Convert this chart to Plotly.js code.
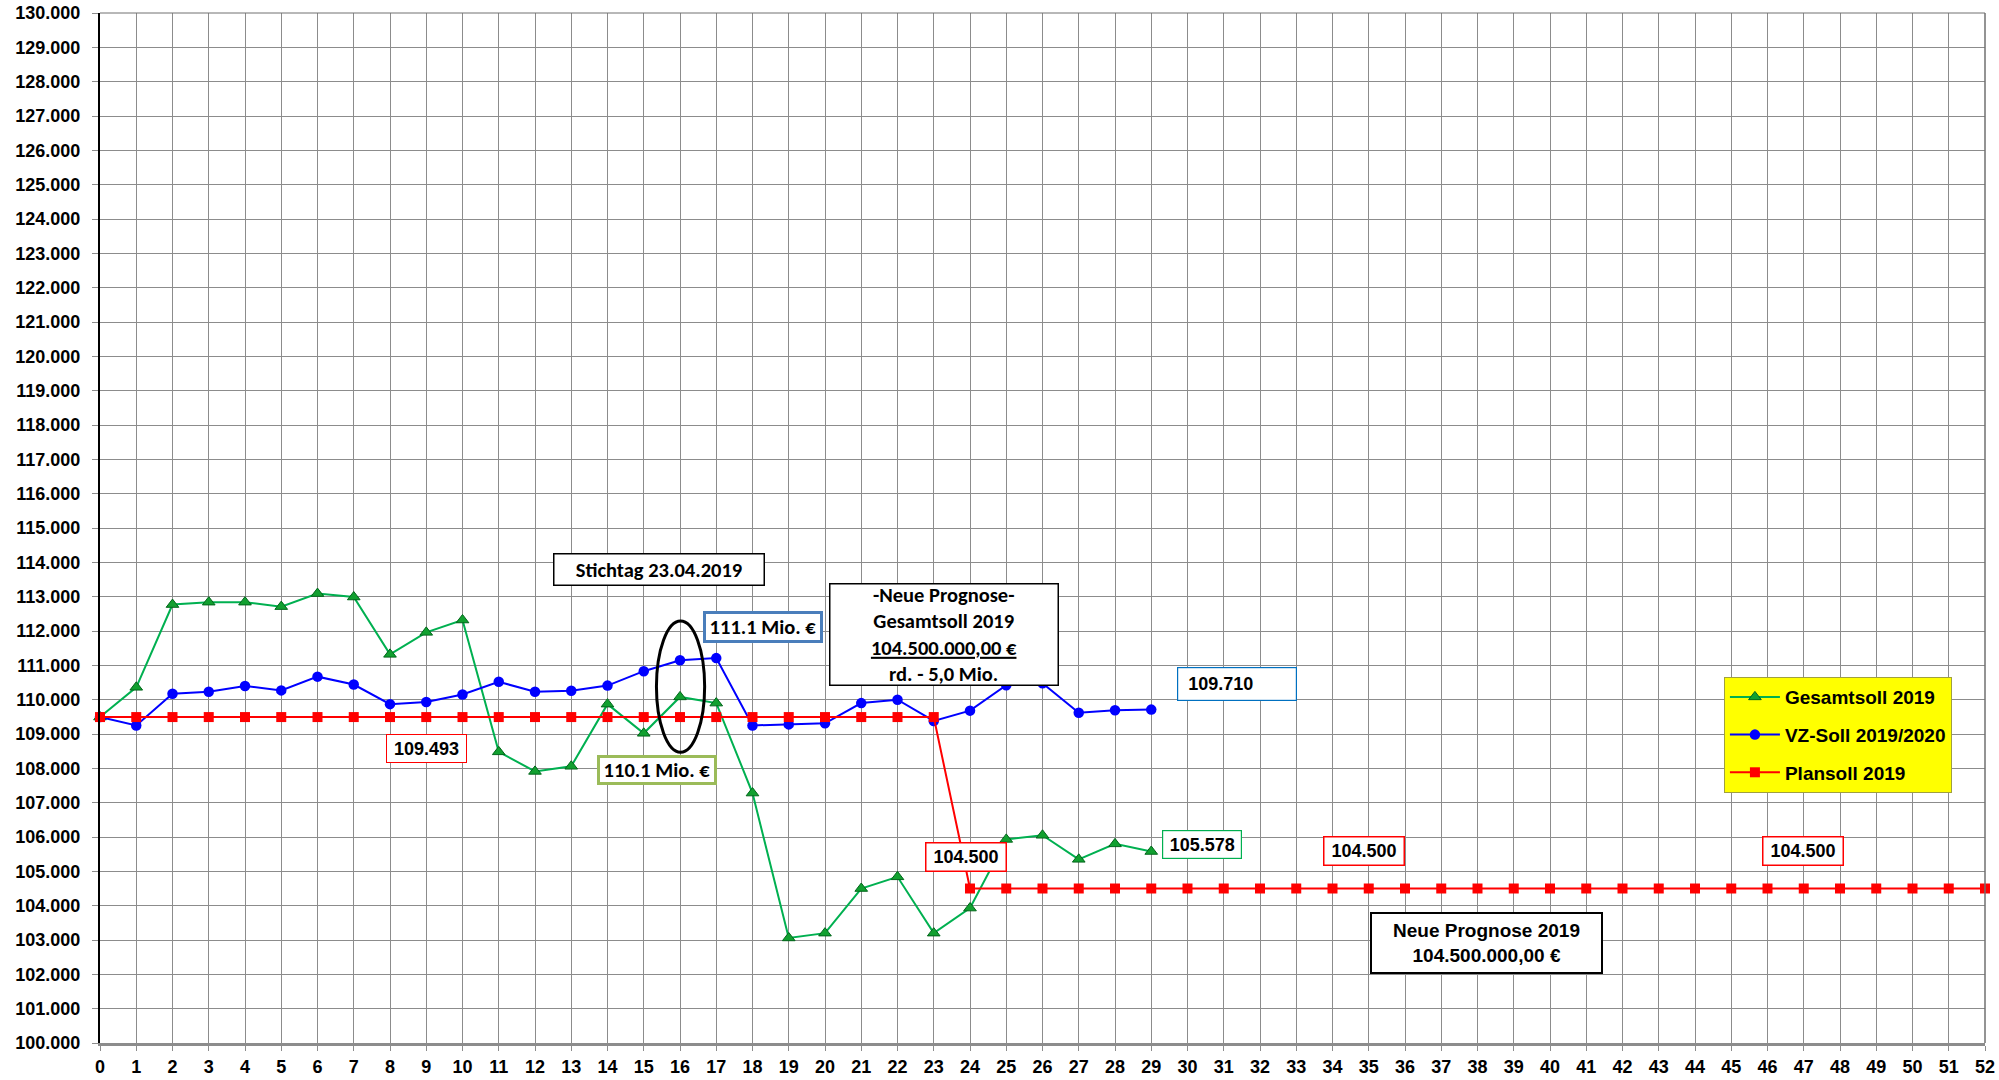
<!DOCTYPE html>
<html>
<head>
<meta charset="utf-8">
<script src="https://cdn.plot.ly/plotly-3.0.1.min.js"></script>
<style>html,body{margin:0;padding:0;background:#fff}#chart{width:1999px;height:1080px}</style>
</head>
<body>
<div id="chart"></div>
<script>
// Kalenderwochen
const weeks = [0,1,2,3,4,5,6,7,8,9,10,11,12,13,14,15,16,17,18,19,20,21,22,23,24,25,26,
  27,28,29,30,31,32,33,34,35,36,37,38,39,40,41,42,43,44,45,46,47,48,49,50,51,52];
const weeksActual = [0,1,2,3,4,5,6,7,8,9,10,11,12,13,14,15,16,17,18,19,20,21,22,23,24,25,26,27,28,29];

// Werte in Tausend Euro (Tsd. = 1.000)
const gesamtsoll2019 = [109.493, 110.36, 112.77, 112.84, 112.84, 112.71, 113.09, 112.99, 111.32, 111.96,
  112.32, 108.48, 107.91, 108.06, 109.87, 109.02, 110.08, 109.90, 107.28, 103.06,
  103.20, 104.50, 104.84, 103.20, 103.93, 105.93, 106.05, 105.35, 105.80, 105.578];
const vzSoll20192020 = [109.493, 109.25, 110.17, 110.23, 110.40, 110.27, 110.67, 110.44, 109.87, 109.93,
  110.15, 110.52, 110.23, 110.26, 110.41, 110.83, 111.15, 111.21, 109.25, 109.28,
  109.31, 109.90, 110.00, 109.38, 109.68, 110.42, 110.48, 109.62, 109.69, 109.71];
const plansoll2019 = [109.493, 109.493, 109.493, 109.493, 109.493, 109.493, 109.493, 109.493, 109.493, 109.493,
  109.493, 109.493, 109.493, 109.493, 109.493, 109.493, 109.493, 109.493, 109.493, 109.493,
  109.493, 109.493, 109.493, 109.493, 104.5, 104.5, 104.5, 104.5, 104.5, 104.5,
  104.5, 104.5, 104.5, 104.5, 104.5, 104.5, 104.5, 104.5, 104.5, 104.5,
  104.5, 104.5, 104.5, 104.5, 104.5, 104.5, 104.5, 104.5, 104.5, 104.5,
  104.5, 104.5, 104.5];

const seriesNames = ['Gesamtsoll 2019', 'VZ-Soll 2019/2020', 'Plansoll 2019'];

const yTickVals = [100,101,102,103,104,105,106,107,108,109,110,111,112,113,114,115,116,117,118,119,120,
  121,122,123,124,125,126,127,128,129,130];
const yTickText = yTickVals.map(v => v.toFixed(3));

const boxFont = {family: 'Carlito, Lato, "Open Sans", sans-serif', size: 20.5, color: '#000', weight: 'bold'};
const numFont = {family: '"Liberation Sans", Arial, sans-serif', size: 18, color: '#000', weight: 'bold'};

const traces = [
  {x: weeksActual, y: gesamtsoll2019, name: seriesNames[0], legendgroup: 'g1', type: 'scatter', mode: 'lines+markers',
   line: {color: '#00b050', width: 2}, cliponaxis: false,
   marker: {symbol: 'triangle-up', size: 11, color: '#12a030', line: {color: '#00661a', width: 1}}},
  {x: weeksActual, y: vzSoll20192020, name: seriesNames[1], legendgroup: 'g2', type: 'scatter', mode: 'lines+markers',
   line: {color: '#0000ff', width: 2}, cliponaxis: false,
   marker: {symbol: 'circle', size: 10.5, color: '#0000ff'}},
  {x: weeks, y: plansoll2019, name: seriesNames[2], legendgroup: 'g3', type: 'scatter', mode: 'lines+markers',
   line: {color: '#ff0000', width: 2}, cliponaxis: false,
   marker: {symbol: 'square', size: 10, color: '#ff0000'}}
];

function box(x, y, text, w, h, border, bw, font, extra) {
  return Object.assign({x: x, y: y, xref: 'x', yref: 'y', text: text, showarrow: false,
    xanchor: 'center', yanchor: 'middle', width: w, height: h, bgcolor: '#ffffff',
    bordercolor: border, borderwidth: bw, borderpad: 0, font: font, align: 'center', valign: 'middle'}, extra || {});
}

const annotations = [
  box(15.41, 113.79, 'Stichtag 23.04.2019', 209, 30, '#000000', 1.5, boxFont),
  box(18.29, 112.12, '111.1 Mio. €', 114, 26, '#4a7ebb', 3, boxFont),
  box(15.37, 107.94, '110.1 Mio. €', 114, 24, '#9bbb59', 3, boxFont),
  box(9.01, 108.59, '109.493', 79, 27, '#ff0000', 1, numFont),
  box(23.28, 111.90, '-Neue Prognose-<br>Gesamtsoll 2019<br><u>104.500.000,00 €</u><br>rd. - 5,0 Mio.', 227, 100, '#000000', 1.5,
      boxFont),
  box(31.37, 110.46, '  109.710', 118, 32, '#0070c0', 1.2, numFont, {align: 'left'}),
  box(30.40, 105.77, '105.578', 78, 27, '#00b050', 1.2, numFont),
  box(23.89, 105.42, '104.500', 79, 27, '#ff0000', 1.5, numFont),
  box(34.88, 105.59, '104.500', 79, 27, '#ff0000', 1.5, numFont),
  box(46.98, 105.59, '104.500', 79, 27, '#ff0000', 1.5, numFont),
  box(38.25, 102.91, 'Neue Prognose 2019<br>104.500.000,00 €', 229, 58, '#000000', 2,
      {family: '"Liberation Sans", Arial, sans-serif', size: 19, color: '#000', weight: 'bold'})
];

const layout = {
  width: 1999, height: 1080,
  margin: {l: 100, r: 14, t: 13, b: 37, pad: 0},
  paper_bgcolor: '#ffffff', plot_bgcolor: '#ffffff',
  showlegend: true,
  legend: {x: 0.8615, y: 0.3553, xanchor: 'left', yanchor: 'top', bgcolor: '#ffff00',
    bordercolor: '#a0a040', borderwidth: 1, traceorder: 'grouped', tracegroupgap: 10,
    font: {family: '"Liberation Sans", Arial, sans-serif', size: 19, color: '#000', weight: 'bold'},
    itemwidth: 50},
  xaxis: {range: [0, 52], tickmode: 'linear', tick0: 0, dtick: 1, showgrid: true, gridcolor: '#8c8c8c', gridwidth: 1,
    zeroline: false, showline: true, linecolor: '#8c8c8c', linewidth: 3, ticks: 'outside', ticklen: 5, tickcolor: '#8c8c8c',
    tickfont: {family: '"Liberation Sans Narrow", "Arial Narrow", "Liberation Sans", Arial, sans-serif', size: 18, color: '#000', weight: 'bold'},
    fixedrange: true},
  yaxis: {range: [100, 130], tickmode: 'array', tickvals: yTickVals, ticktext: yTickText, showgrid: true,
    gridcolor: '#8c8c8c', gridwidth: 1, zeroline: false, showline: true, linecolor: '#000000', linewidth: 2,
    ticks: 'outside', ticklen: 6, tickcolor: '#8c8c8c', ticklabelstandoff: 8,
    tickfont: {family: '"Liberation Sans", Arial, sans-serif', size: 18, color: '#000', weight: 'bold'},
    fixedrange: true},
  shapes: [
    {type: 'line', xref: 'paper', yref: 'paper', x0: 0, x1: 1, y0: 1, y1: 1, line: {color: '#707070', width: 1}},
    {type: 'line', xref: 'paper', yref: 'paper', x0: 1, x1: 1, y0: 0, y1: 1, line: {color: '#707070', width: 1.5}},
    {type: 'circle', xref: 'x', yref: 'y', x0: 15.35, x1: 16.68, y0: 108.47, y1: 112.29,
     line: {color: '#000000', width: 3}, fillcolor: 'rgba(0,0,0,0)', layer: 'above'}
  ],
  annotations: annotations
};

Plotly.newPlot('chart', traces, layout, {displayModeBar: false, staticPlot: true});
</script>
</body>
</html>
